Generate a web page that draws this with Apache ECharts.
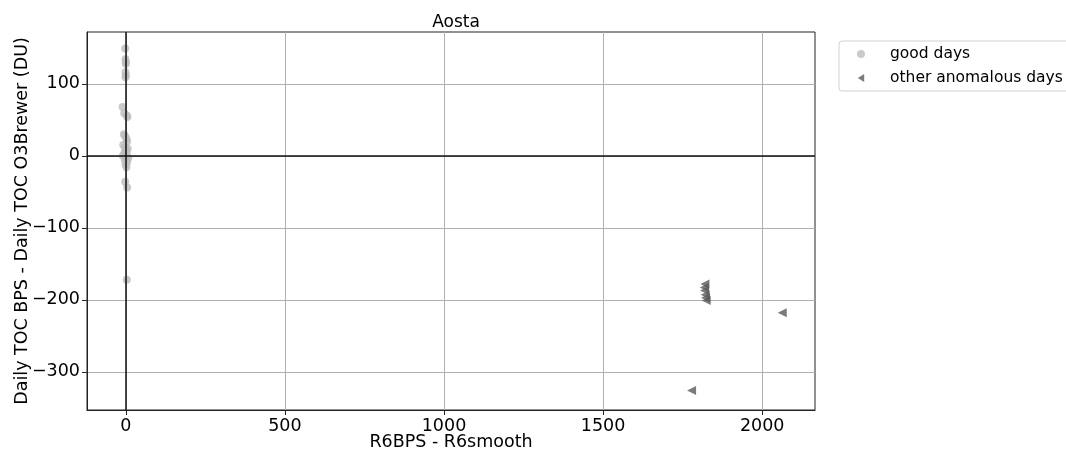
<!DOCTYPE html>
<html><head><meta charset="utf-8">
<script src="https://cdn.jsdelivr.net/npm/echarts@6/dist/echarts.min.js"></script>
<style>html,body{margin:0;padding:0;background:#fff}#c{width:1066px;height:451px}</style>
</head><body><div id="c"></div>
<script>
var title = 'Aosta';
var xName = 'R6BPS - R6smooth';
var yName = 'Daily TOC BPS - Daily TOC O3Brewer (DU)';
var xTicks = [0, 500, 1000, 1500, 2000];
var yTicks = [-300, -200, -100, 0, 100];
var goodX = [-2, -1, 0, 0, -1, 0, -1, -10, -5, 3, 5, -6, -3, 2, 4, -8, -2, 6, 0, -4, 3, -9, 1, 8, -3, 4, -1, 2, -2, 4, 3];
var goodY = [149, 134, 130, 128, 116, 112, 109, 68, 59, 56, 54, 30, 28, 24, 20, 15, 12, 10, 8, 5, 3, 0, -2, -3, -6, -9, -12, -16, -36, -44, -172];
var anomX = [1820, 1818, 1819, 1821, 1822, 1824, 2063, 1778];
var anomY = [-178, -183, -187, -193, -197, -201, -218, -326];

function pairs(xs, ys){ return xs.map(function(v,i){return [v, ys[i]];}); }
var F = 'DejaVu Sans';
var chart = echarts.init(document.getElementById('c'), null, {renderer:'canvas'});
chart.setOption({
  animation:false,
  textStyle:{fontFamily:F},
  title:{text:title, left:451, textAlign:'center', top:9, textStyle:{fontFamily:F, fontSize:17, fontWeight:'normal', color:'#000'}},
  grid:{left:87, right:251, top:32, bottom:41, outerBoundsMode:'none', containLabel:false, show:true, borderColor:'#222', borderWidth:1, backgroundColor:'transparent'},
  legend:{orient:'vertical', left:839, top:41, padding:[5,10,5,18], itemGap:8, itemWidth:14, itemHeight:8,
    borderColor:'#d0d0d0', borderWidth:1, borderRadius:3,
    textStyle:{fontFamily:F, fontSize:15.5, color:'#000', padding:[0,0,0,17]},
    data:[{name:'good days', icon:'circle'},{name:'other anomalous days', icon:'path://M0,5 L8,0 L8,10 Z'}]},
  xAxis:{type:'value', min:-122, max:2166, name:xName, nameLocation:'middle', nameGap:23, nameMoveOverlap:false,
    nameTextStyle:{fontFamily:F, fontSize:17.5, color:'#000'},
    axisLine:{show:true, onZero:false, lineStyle:{color:'#222', width:1}},
    axisTick:{show:true, length:5, customValues:xTicks, lineStyle:{color:'#222'}},
    axisLabel:{customValues:xTicks, fontFamily:F, fontSize:17.5, color:'#000', margin:7,
      formatter:function(v){return String(v);}},
    splitLine:{show:true, lineStyle:{color:'#b0b0b0', width:1}}},
  yAxis:{type:'value', min:-353, max:172, name:yName, nameLocation:'middle', nameGap:56, nameMoveOverlap:false,
    nameTextStyle:{fontFamily:F, fontSize:17.5, color:'#000'},
    axisLine:{show:true, onZero:false, lineStyle:{color:'#222', width:1}},
    axisTick:{show:true, length:5, customValues:yTicks, lineStyle:{color:'#222'}},
    axisLabel:{customValues:yTicks, fontFamily:F, fontSize:17.5, color:'#000', margin:7,
      formatter:function(v){return String(v).replace('-','\u2212');}},
    splitLine:{show:true, lineStyle:{color:'#b0b0b0', width:1}}},
  series:[
    {name:'good days', type:'scatter', data:pairs(goodX, goodY), symbol:'circle', symbolSize:8,
      itemStyle:{color:'#bdbdbd'}, z:3},
    {name:'other anomalous days', type:'scatter', data:pairs(anomX, anomY), symbol:'triangle', symbolRotate:90, symbolSize:9,
      itemStyle:{color:'#5a5a5a'}, z:3},
    {name:'zero', type:'line', data:[], z:5, silent:true,
      markLine:{silent:true, symbol:['none','none'], label:{show:false}, animation:false,
        lineStyle:{color:'#111', width:1.5, type:'solid'},
        data:[{xAxis:0},{yAxis:0}]}}
  ]
});
</script></body></html>
